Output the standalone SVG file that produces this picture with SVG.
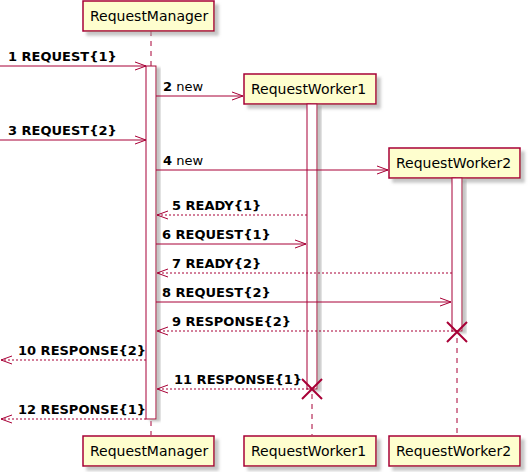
<svg xmlns="http://www.w3.org/2000/svg" width="529" height="472" viewBox="0 0 529 472">
<defs>
<filter id="sh" x="-10%" y="-10%" width="130%" height="150%">
<feGaussianBlur in="SourceAlpha" stdDeviation="1.7"/>
<feOffset dx="4" dy="4" result="b"/>
<feColorMatrix in="b" type="matrix" values="0 0 0 0 0.35 0 0 0 0 0.35 0 0 0 0 0.35 0 0 0 0.6 0"/>
<feMerge><feMergeNode/><feMergeNode in="SourceGraphic"/></feMerge>
</filter>
<filter id="sha" x="-50%" y="-5%" width="200%" height="110%">
<feGaussianBlur in="SourceAlpha" stdDeviation="1.2"/>
<feOffset dx="4" dy="2" result="b"/>
<feColorMatrix in="b" type="matrix" values="0 0 0 0 0.35 0 0 0 0 0.35 0 0 0 0 0.35 0 0 0 0.6 0"/>
<feMerge><feMergeNode/><feMergeNode in="SourceGraphic"/></feMerge>
</filter>
</defs>
<style>
.box{fill:#FEFECE;stroke:#A80036;stroke-width:1.5}
.act{fill:#FFFFFF;stroke:#A80036;stroke-width:1}
.life{stroke:#A80036;stroke-width:1;stroke-dasharray:5,5;fill:none}
.msg{stroke:#A80036;stroke-width:1;fill:none}
.ret{stroke:#A80036;stroke-width:1;stroke-dasharray:2,2;fill:none}
.x{stroke:#A80036;stroke-width:2;fill:none}
.pn{font-family:"DejaVu Sans",sans-serif;font-size:14px;fill:#000000}
.ml{font-family:"DejaVu Sans",sans-serif;font-size:13px;fill:#000000}
.b{font-weight:bold}
</style>
<g id="lifelines">
<line class="life" x1="151" y1="31" x2="151" y2="435"/>
<line class="life" x1="312" y1="104" x2="312" y2="435"/>
<line class="life" x1="457" y1="178" x2="457" y2="435"/>
</g>
<g id="RequestManager">
<rect class="box" x="83" y="1" width="131" height="30" filter="url(#sh)"/>
<text class="pn" x="90" y="21">RequestManager</text>
<rect class="act" x="146" y="66" width="10" height="353" filter="url(#sha)"/>
<rect class="box" x="83" y="436" width="131" height="30" filter="url(#sh)"/>
<text class="pn" x="90" y="456">RequestManager</text>
</g>
<g id="RequestWorker1">
<rect class="box" x="244" y="74" width="132" height="30" filter="url(#sh)"/>
<text class="pn" x="251" y="94">RequestWorker1</text>
<rect class="act" x="307" y="104" width="10" height="285" filter="url(#sha)"/>
<rect class="box" x="244" y="436" width="132" height="30" filter="url(#sh)"/>
<text class="pn" x="251" y="456">RequestWorker1</text>
</g>
<g id="RequestWorker2">
<rect class="box" x="389" y="148" width="131" height="30" filter="url(#sh)"/>
<text class="pn" x="396" y="168">RequestWorker2</text>
<rect class="act" x="452" y="178" width="10" height="153" filter="url(#sha)"/>
<rect class="box" x="389" y="436" width="131" height="30" filter="url(#sh)"/>
<text class="pn" x="396" y="456">RequestWorker2</text>
</g>
<g id="connectors">
<line class="msg" x1="0" y1="66" x2="146" y2="66"/><path class="msg" d="M135,62 L146,66 L135,70"/>
<line class="msg" x1="156" y1="96" x2="243" y2="96"/><path class="msg" d="M232,92 L243,96 L232,100"/>
<line class="msg" x1="0" y1="140" x2="146" y2="140"/><path class="msg" d="M135,136 L146,140 L135,144"/>
<line class="msg" x1="156" y1="170" x2="388" y2="170"/><path class="msg" d="M377,166 L388,170 L377,174"/>
<line class="ret" x1="307" y1="215" x2="157" y2="215"/><path class="msg" d="M168,211 L157,215 L168,219"/>
<line class="msg" x1="156" y1="244" x2="306" y2="244"/><path class="msg" d="M295,240 L306,244 L295,248"/>
<line class="ret" x1="452" y1="273" x2="157" y2="273"/><path class="msg" d="M168,269 L157,273 L168,277"/>
<line class="msg" x1="156" y1="302" x2="451" y2="302"/><path class="msg" d="M440,298 L451,302 L440,306"/>
<line class="ret" x1="457" y1="331" x2="157" y2="331"/><path class="msg" d="M168,327 L157,331 L168,335"/>
<line class="ret" x1="146" y1="360" x2="1" y2="360"/><path class="msg" d="M12,356 L1,360 L12,364"/>
<line class="ret" x1="312" y1="389" x2="157" y2="389"/><path class="msg" d="M168,385 L157,389 L168,393"/>
<line class="ret" x1="146" y1="419" x2="1" y2="419"/><path class="msg" d="M12,415 L1,419 L12,423"/>
<path class="x" d="M447,322 L467,342 M467,322 L447,342"/>
<path class="x" d="M302,379 L322,399 M322,379 L302,399"/>
</g>
<g id="labels">
<text class="ml b" x="8" y="61">1 REQUEST{1}</text>
<text class="ml" x="163" y="91"><tspan class="b">2</tspan> new</text>
<text class="ml b" x="8" y="135">3 REQUEST{2}</text>
<text class="ml" x="163" y="165"><tspan class="b">4</tspan> new</text>
<text class="ml b" x="172" y="210">5 READY{1}</text>
<text class="ml b" x="162" y="239">6 REQUEST{1}</text>
<text class="ml b" x="172" y="268">7 READY{2}</text>
<text class="ml b" x="162" y="297">8 REQUEST{2}</text>
<text class="ml b" x="172" y="326">9 RESPONSE{2}</text>
<text class="ml b" x="18" y="355">10 RESPONSE{2}</text>
<text class="ml b" x="174" y="384">11 RESPONSE{1}</text>
<text class="ml b" x="18" y="414">12 RESPONSE{1}</text>
</g>
</svg>
